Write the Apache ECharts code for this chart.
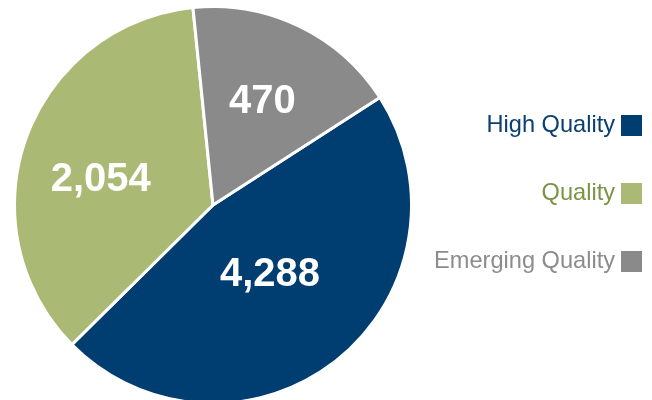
<!DOCTYPE html>
<html>
<head>
<meta charset="utf-8">
<script src="https://cdn.jsdelivr.net/npm/echarts@6/dist/echarts.min.js"></script>
<style>html,body{margin:0;padding:0;background:#fff}#c{width:652px;height:400px}</style>
</head>
<body>
<div id="c"></div>
<script>
// Categories (legend order)
const categories = ['High Quality', 'Quality', 'Emerging Quality'];
// Values printed on the slices
const labelValues = [4288, 2054, 470];
// Angular share of each slice (percent of the circle)
const sliceShares = [46.7, 35.8, 17.5];

const sliceColors = ['#003d70', '#aaba74', '#8a8a8a'];
const legendTextColors = ['#0a3f72', '#7a9444', '#8c8c8c'];
const labelOffsets = [[-7, -10], [-16, 10], [5, -11]];

const chart = echarts.init(document.getElementById('c'), null, { renderer: 'canvas' });

const pieData = categories.map((name, i) => ({
  name: name,
  value: sliceShares[i],
  itemStyle: { color: sliceColors[i] },
  label: { offset: labelOffsets[i] }
}));

chart.setOption({
  animation: false,
  backgroundColor: '#ffffff',
  legend: {
    orient: 'vertical',
    right: 3,
    top: 108,
    align: 'right',
    icon: 'rect',
    itemWidth: 23,
    itemHeight: 23,
    itemGap: 43,
    selectedMode: false,
    textStyle: { fontFamily: 'Liberation Sans, Arial, sans-serif', fontSize: 23.6 },
    data: categories.map((name, i) => ({
      name: name,
      textStyle: { color: legendTextColors[i] }
    }))
  },
  series: [{
    type: 'pie',
    center: [213, 205],
    radius: 198.5,
    startAngle: 32.8,
    clockwise: true,
    avoidLabelOverlap: false,
    itemStyle: { borderColor: '#ffffff', borderWidth: 3 },
    emphasis: { disabled: true },
    label: {
      show: true,
      position: 'inside',
      color: '#ffffff',
      fontFamily: 'Liberation Sans, Arial, sans-serif',
      fontWeight: 'bold',
      fontSize: 40,
      formatter: p => labelValues[p.dataIndex].toLocaleString('en-US')
    },
    labelLine: { show: false },
    data: pieData
  }]
});
</script>
</body>
</html>
